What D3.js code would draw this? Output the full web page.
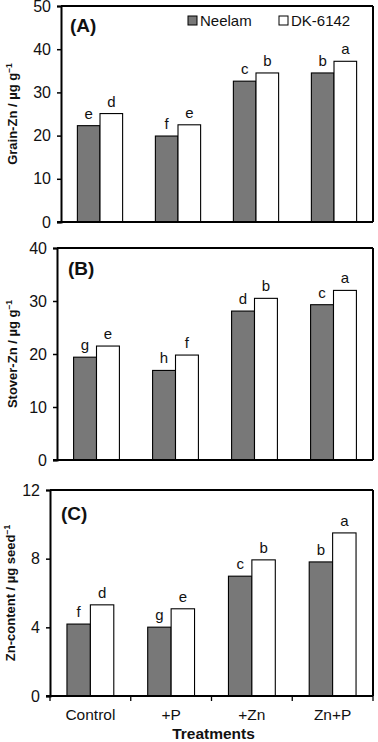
<!DOCTYPE html>
<html><head><meta charset="utf-8">
<script src="https://cdn.jsdelivr.net/npm/d3@7/dist/d3.min.js"></script>
<style>body{margin:0;background:#fff}svg{display:block;font-family:"Liberation Sans",Arial,sans-serif}</style>
</head><body><svg id="c" width="378" height="742"></svg>
<script>
const treatments = ["Control", "+P", "+Zn", "Zn+P"];
const seriesNames = ["Neelam", "DK-6142"];
const grainNeelam = [22.3, 19.9, 32.6, 34.5];
const grainDK = [25.1, 22.5, 34.5, 37.2];
const grainLetters = [["e","d"],["f","e"],["c","b"],["b","a"]];
const stoverNeelam = [19.4, 16.9, 28.1, 29.3];
const stoverDK = [21.5, 19.8, 30.5, 32.0];
const stoverLetters = [["g","e"],["h","f"],["d","b"],["c","a"]];
const contentNeelam = [4.19, 4.01, 6.98, 7.81];
const contentDK = [5.31, 5.08, 7.93, 9.5];
const contentLetters = [["f","d"],["g","e"],["c","b"],["b","a"]];
const grainTicks = [0, 10, 20, 30, 40, 50];
const stoverTicks = [0, 10, 20, 30, 40];
const contentTicks = [0, 4, 8, 12];

const colors = ["#787878", "#ffffff"];
const svg = d3.select("#c");

const panels = [
  {label:"(A)", title:"Grain-Zn / µg g", sup:"−1", vals:[grainNeelam, grainDK], letters:grainLetters, ticks:grainTicks,
   x0:61, x1:373, y0:6, y1:222, labelX:70, labelY:32, titleX:17, legend:true, xticks:false},
  {label:"(B)", title:"Stover-Zn / µg g", sup:"−1", vals:[stoverNeelam, stoverDK], letters:stoverLetters, ticks:stoverTicks,
   x0:57, x1:373, y0:248, y1:460, labelX:68, labelY:275, titleX:17, legend:false, xticks:false},
  {label:"(C)", title:"Zn-content / µg seed", sup:"−1", vals:[contentNeelam, contentDK], letters:contentLetters, ticks:contentTicks,
   x0:50, x1:373, y0:490, y1:696, labelX:61, labelY:520, titleX:15, legend:false, xticks:true}
];

panels.forEach(p => {
  const g = svg.append("g");
  const x = d3.scaleBand().domain(treatments).range([p.x0, p.x1]).paddingInner(0.42).paddingOuter(0.21);
  const xs = d3.scaleBand().domain([0,1]).range([0, x.bandwidth()]);
  const y = d3.scaleLinear().domain([0, d3.max(p.ticks)]).range([p.y1, p.y0]);

  treatments.forEach((t, i) => {
    [0,1].forEach(s => {
      const v = p.vals[s][i];
      g.append("rect")
        .attr("x", x(t) + xs(s)).attr("y", y(v))
        .attr("width", xs.bandwidth()).attr("height", y(0) - y(v))
        .attr("fill", colors[s]).attr("stroke", "#000").attr("stroke-width", 1.1);
      g.append("text")
        .attr("x", x(t) + xs(s) + xs.bandwidth()/2).attr("y", y(v) - 7)
        .attr("text-anchor", "middle").attr("font-size", 15).attr("fill", "#111")
        .text(p.letters[i][s]);
    });
  });

  g.append("line").attr("x1", p.x0).attr("x2", p.x1).attr("y1", p.y0).attr("y2", p.y0).attr("stroke","#000").attr("stroke-width",2);
  g.append("line").attr("x1", p.x1).attr("x2", p.x1).attr("y1", p.y0).attr("y2", p.y1).attr("stroke","#000").attr("stroke-width",2);

  const ya = g.append("g").attr("transform", `translate(${p.x0},0)`)
    .call(d3.axisLeft(y).tickValues(p.ticks).tickSize(4).tickPadding(6).tickFormat(d3.format("d")));
  ya.select(".domain").attr("stroke-width", 2);
  ya.selectAll(".tick line").attr("stroke-width", 1.5);
  ya.selectAll("text").attr("font-size", 16).attr("font-family", "Liberation Sans, Arial, sans-serif").attr("fill", "#111");

  const xa = g.append("g").attr("transform", `translate(0,${p.y1})`);
  xa.append("line").attr("x1", p.x0 - 4).attr("x2", p.x1).attr("y1", 0).attr("y2", 0).attr("stroke","#000").attr("stroke-width",2);
  if (p.xticks) {
    const bounds = treatments.map(t => x(t) - x.step()*x.paddingInner()/2).concat([p.x1]);
    bounds.forEach(b => xa.append("line").attr("x1", b).attr("x2", b).attr("y1", 0).attr("y2", 5).attr("stroke","#000").attr("stroke-width",1.3));
    treatments.forEach(t => xa.append("text").attr("x", x(t) + x.bandwidth()/2).attr("y", 24)
      .attr("text-anchor","middle").attr("font-size", 15.5).attr("fill","#111").text(t));
    svg.append("text").attr("x", (p.x0 + p.x1)/2 + 2).attr("y", 739).attr("text-anchor","middle")
      .attr("font-size", 15.5).attr("font-weight","bold").attr("fill","#111").text("Treatments");
  }

  g.append("text").attr("x", p.labelX).attr("y", p.labelY).attr("font-size", 19).attr("font-weight","bold").attr("fill","#111").text(p.label);

  const ty = g.append("text").attr("transform", `translate(${p.titleX},${(p.y0+p.y1)/2}) rotate(-90)`)
    .attr("text-anchor","middle").attr("font-size", 13).attr("font-weight","bold").attr("fill","#111");
  ty.append("tspan").text(p.title);
  ty.append("tspan").attr("dy", -5).attr("font-size", 8.5).text(p.sup);

  if (p.legend) {
    const lx = [188, 279];
    seriesNames.forEach((n, s) => {
      g.append("rect").attr("x", lx[s]).attr("y", 16).attr("width", 9).attr("height", 9)
        .attr("fill", colors[s]).attr("stroke", "#000").attr("stroke-width", 1);
      g.append("text").attr("x", lx[s] + 12).attr("y", 26).attr("font-size", 15).attr("fill","#111").text(n);
    });
  }
});
</script></body></html>
